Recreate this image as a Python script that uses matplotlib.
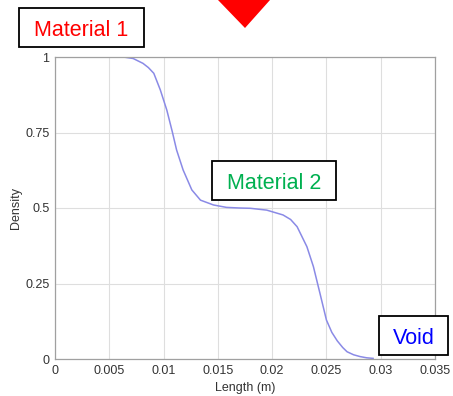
import matplotlib
matplotlib.use('Agg')
import matplotlib.pyplot as plt
from matplotlib.patches import Polygon, Rectangle

# density profile along the bar
length = [0.0063, 0.0072, 0.0081, 0.0086, 0.0091, 0.0097, 0.0103, 0.0108,
          0.0112, 0.0118, 0.0126, 0.0134, 0.0146, 0.0158, 0.0170, 0.0180,
          0.0195, 0.0210, 0.0217, 0.0223, 0.0232, 0.0238, 0.0244, 0.0250,
          0.0255, 0.0260, 0.0265, 0.0269, 0.0275, 0.0281, 0.0287, 0.0293]
density = [1.0, 0.995, 0.979, 0.965, 0.946, 0.891, 0.824, 0.753,
           0.692, 0.626, 0.560, 0.526, 0.510, 0.502, 0.500, 0.499,
           0.493, 0.477, 0.462, 0.438, 0.372, 0.306, 0.218, 0.129,
           0.088, 0.060, 0.038, 0.024, 0.014, 0.008, 0.004, 0.002]

xticks = [0, 0.005, 0.01, 0.015, 0.02, 0.025, 0.03, 0.035]
xticklabels = ['0', '0.005', '0.01', '0.015', '0.02', '0.025', '0.03', '0.035']
yticks = [0, 0.25, 0.5, 0.75, 1]
yticklabels = ['0', '0.25', '0.5', '0.75', '1']

W, H = 453, 396
plt.rcParams['font.family'] = ['Liberation Sans', 'DejaVu Sans']

fig = plt.figure(figsize=(W / 100, H / 100), dpi=100)
ax = fig.add_axes([55 / W, 1 - 359 / H, 380 / W, 302 / H])

ax.plot(length, density, color='#8a8ae6', lw=1.1, solid_joinstyle='round')
ax.set_xlim(0, 0.035)
ax.set_ylim(0, 1)
ax.set_xticks(xticks)
ax.set_xticklabels(xticklabels)
ax.set_yticks(yticks)
ax.set_yticklabels(yticklabels)
ax.tick_params(labelsize=9, colors='#333333', length=0, pad=4)
ax.grid(True, color='#dedede', lw=0.8)
for s in ax.spines.values():
    s.set_color('#a0a0a0')
    s.set_linewidth(0.9)
ax.set_xlabel('Length (m)', fontsize=9, color='#333333', labelpad=4)
ax.set_ylabel('Density', fontsize=9, color='#333333', labelpad=2)


def label_box(x0, y0, x1, y1, text, color):
    # box edges given in pixels from the top-left corner
    fig.patches.append(Rectangle((x0 / W, 1 - y1 / H), (x1 - x0) / W, (y1 - y0) / H,
                                 transform=fig.transFigure, fc='white',
                                 ec='black', lw=1.3))
    fig.text((x0 + x1) / 2 / W, 1 - (y0 + y1) / 2 / H, text, color=color,
             fontsize=15.5, ha='center', va='center_baseline')


label_box(19, 8, 144, 47, 'Material 1', 'red')
label_box(212, 161, 336, 200, 'Material 2', '#00b050')
label_box(379, 316, 448, 355, 'Void', 'blue')

# red arrow pointing down onto the top of the chart
fig.patches.append(Polygon([(218 / W, 1.0), (270 / W, 1.0), (245 / W, 1 - 28 / H)],
                           closed=True, transform=fig.transFigure,
                           fc='red', ec='none'))

fig.savefig('out.png', dpi=100)
